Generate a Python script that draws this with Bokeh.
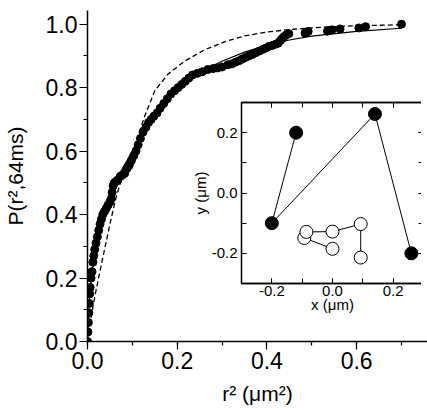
from bokeh.plotting import figure
from bokeh.models import LinearAxis, SingleIntervalTicker, Range1d, NumeralTickFormatter, GridBox
from bokeh.embed import file_html
from bokeh.resources import INLINE

FONT = "Liberation Sans"

# ---- main panel: cumulative distribution of r^2 ----
r2 = [0.000, 0.001, 0.002, 0.003, 0.004, 0.005, 0.006, 0.008, 0.010, 0.012,
      0.014, 0.016, 0.019, 0.022, 0.025, 0.028, 0.031, 0.034, 0.038, 0.042,
      0.046, 0.050, 0.053, 0.055, 0.057, 0.060, 0.064, 0.068, 0.073, 0.078,
      0.083, 0.088, 0.093, 0.098, 0.103, 0.108, 0.113, 0.118, 0.124, 0.130,
      0.136, 0.142, 0.148, 0.155, 0.162, 0.170, 0.178, 0.186, 0.194, 0.202,
      0.210, 0.218, 0.226, 0.234, 0.245, 0.256, 0.268, 0.280, 0.290, 0.300,
      0.313, 0.322, 0.330, 0.338, 0.345, 0.352, 0.360, 0.368, 0.375, 0.383,
      0.390, 0.398, 0.405, 0.412, 0.420, 0.425, 0.430, 0.434, 0.438, 0.443,
      0.449, 0.485, 0.492, 0.535, 0.540, 0.545, 0.563, 0.605, 0.620, 0.700]
P = [0.00, 0.03, 0.06, 0.09, 0.12, 0.15, 0.17, 0.20, 0.22, 0.25,
     0.27, 0.29, 0.31, 0.33, 0.35, 0.37, 0.385, 0.40, 0.41, 0.42,
     0.43, 0.44, 0.45, 0.47, 0.49, 0.50, 0.505, 0.51, 0.52, 0.525,
     0.53, 0.545, 0.555, 0.57, 0.585, 0.60, 0.62, 0.64, 0.66, 0.675,
     0.69, 0.70, 0.71, 0.72, 0.735, 0.75, 0.765, 0.78, 0.79, 0.80,
     0.81, 0.82, 0.83, 0.84, 0.845, 0.85, 0.857, 0.86, 0.862, 0.865,
     0.872, 0.875, 0.88, 0.885, 0.89, 0.895, 0.90, 0.905, 0.91, 0.915,
     0.92, 0.925, 0.93, 0.933, 0.937, 0.94, 0.948, 0.955, 0.96, 0.966,
     0.97, 0.972, 0.977, 0.978, 0.98, 0.982, 0.985, 0.988, 0.992, 1.00]

fit_x = [0.0, 0.005, 0.01, 0.02, 0.04, 0.06, 0.10, 0.15, 0.20, 0.25, 0.30,
         0.35, 0.40, 0.45, 0.50, 0.60, 0.70]
fit_y = [0.0, 0.15, 0.22, 0.31, 0.42, 0.50, 0.60, 0.72, 0.80, 0.85, 0.883,
         0.912, 0.933, 0.95, 0.962, 0.977, 0.987]

dash_x = [0.0, 0.005, 0.013, 0.020, 0.035, 0.050, 0.064, 0.080, 0.105, 0.127,
          0.150, 0.179, 0.216, 0.261, 0.305, 0.350, 0.400, 0.450, 0.500, 0.550,
          0.600, 0.700]
dash_y = [0.0, 0.05, 0.117, 0.168, 0.27, 0.37, 0.456, 0.53, 0.615, 0.708,
          0.79, 0.842, 0.883, 0.919, 0.944, 0.963, 0.975, 0.983, 0.988, 0.992,
          0.995, 0.998]

# ---- inset: trajectory ----
fill_x = [-0.12, -0.20, 0.14, 0.26]
fill_y = [0.20, -0.10, 0.262, -0.20]
open_x = [0.00, -0.093, -0.086, 0.00, 0.093, 0.093]
open_y = [-0.185, -0.149, -0.129, -0.128, -0.103, -0.214]

p = figure(width=427, height=413, x_range=Range1d(0, 0.758), y_range=Range1d(0, 1.043),
           output_backend="svg", toolbar_location=None,
           min_border_left=86, min_border_right=0, min_border_top=3, min_border_bottom=72)
p.outline_line_color = None
p.grid.visible = False
p.background_fill_color = "white"

for ax in (p.below[0], p.left[0]):
    ax.ticker = SingleIntervalTicker(interval=0.2, num_minor_ticks=2)
    ax.formatter = NumeralTickFormatter(format="0.0")
    ax.major_label_text_font = FONT
    ax.major_label_text_font_size = "23px"
    ax.major_label_text_color = "black"
    ax.axis_label_text_font = FONT
    ax.axis_label_text_font_size = "21px"
    ax.axis_label_text_font_style = "normal"
    ax.axis_label_text_color = "black"
    ax.axis_line_color = "black"
    ax.axis_line_width = 1.5
    ax.major_tick_line_color = "black"
    ax.major_tick_line_width = 1.2
    ax.minor_tick_line_color = "black"
    ax.minor_tick_line_width = 1.2
    ax.major_tick_in = 0
    ax.major_tick_out = 8
    ax.minor_tick_in = 0
    ax.minor_tick_out = 4

p.below[0].axis_label = "r\u00b2 (\u03bcm\u00b2)"
p.left[0].axis_label = "P(r\u00b2,64ms)"
p.below[0].major_label_standoff = 2
p.below[0].axis_label_standoff = 10
p.left[0].major_label_standoff = 2
p.left[0].axis_label_standoff = 16

p.line(dash_x, dash_y, line_color="black", line_width=1.3, line_dash="5 3")
p.line(fit_x, fit_y, line_color="black", line_width=1.2)
p.scatter(r2, P, size=8, fill_color="black", line_color="black")

# inset figure
ins = figure(frame_width=182, frame_height=181, x_range=Range1d(-0.3, 0.3), y_range=Range1d(-0.3, 0.3),
             output_backend="svg", toolbar_location=None,
             min_border_left=85, min_border_right=0, min_border_top=10, min_border_bottom=34,
             background_fill_color="white", border_fill_alpha=0)
ins.outline_line_color = "black"
ins.outline_line_width = 1.3
ins.grid.visible = False
ins.add_layout(LinearAxis(), "above")
ins.add_layout(LinearAxis(), "right")
for ax in (ins.below[0], ins.left[0], ins.above[0], ins.right[0]):
    ax.ticker = SingleIntervalTicker(interval=0.2, num_minor_ticks=2)
    ax.formatter = NumeralTickFormatter(format="0.0")
    ax.major_label_text_font = FONT
    ax.major_label_text_font_size = "15px"
    ax.major_label_text_color = "black"
    ax.axis_label_text_font = FONT
    ax.axis_label_text_font_size = "15px"
    ax.axis_label_text_font_style = "normal"
    ax.axis_label_text_color = "black"
    ax.axis_line_color = "black"
    ax.axis_line_width = 1.3
    ax.major_tick_line_color = "black"
    ax.minor_tick_line_color = "black"
    ax.major_tick_in = 5
    ax.major_tick_out = 0
    ax.minor_tick_in = 5
    ax.minor_tick_out = 0
    ax.major_label_standoff = 4
for ax in (ins.above[0], ins.right[0]):
    ax.major_label_text_font_size = "0px"
    ax.major_label_text_color = None
    ax.major_label_standoff = 0
    ax.axis_label_standoff = 0
ins.below[0].axis_label = "x (\u03bcm)"
ins.left[0].axis_label = "y (\u03bcm)"
ins.below[0].major_label_standoff = 2
ins.below[0].axis_label_standoff = -3
ins.left[0].axis_label_standoff = 0

ins.line(fill_x, fill_y, line_color="black", line_width=1)
ins.line(open_x, open_y, line_color="black", line_width=1)
ins.scatter(fill_x, fill_y, size=13, fill_color="black", line_color="black")
ins.scatter(open_x, open_y, size=13, fill_color="white", line_color="black", line_width=1)

ins.margin = (92, 0, 0, 154)

layout = GridBox(children=[(p, 0, 0), (ins, 0, 0)])

open("out.html", "w").write(file_html(layout, INLINE))
